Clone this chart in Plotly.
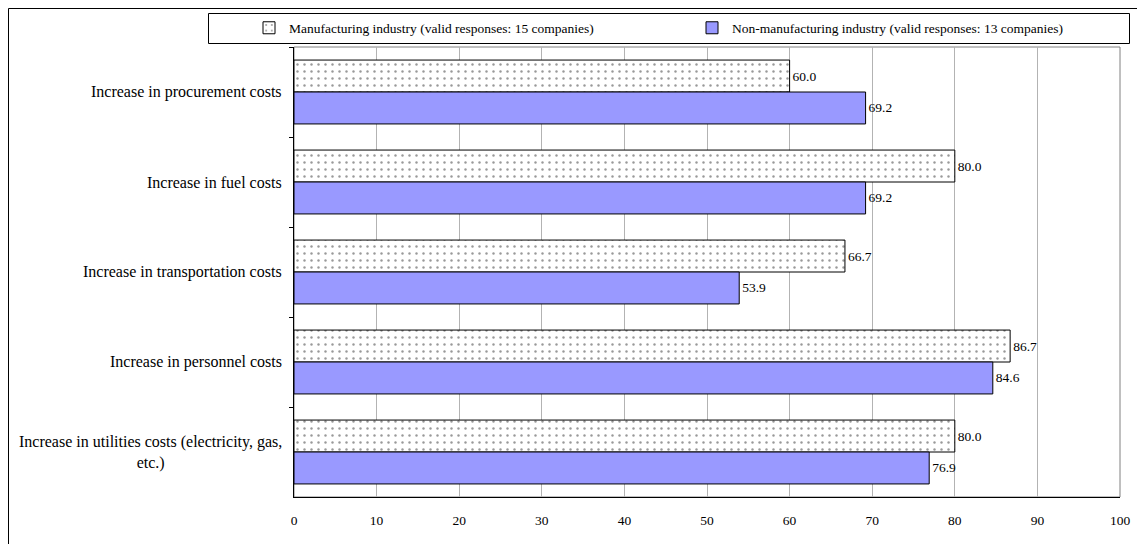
import plotly.graph_objects as go

categories = [
    "Increase in procurement costs",
    "Increase in fuel costs",
    "Increase in transportation costs",
    "Increase in personnel costs",
    "Increase in utilities costs (electricity, gas,<br>etc.)",
]
manufacturing = [60.0, 80.0, 66.7, 86.7, 80.0]
non_manufacturing = [69.2, 69.2, 53.9, 84.6, 76.9]
series_names = [
    "Manufacturing industry (valid responses: 15 companies)",
    "Non-manufacturing industry (valid responses: 13 companies)",
]

FONT = "Liberation Serif, Times New Roman, Times, serif"
OFF = 8  # page body margin
W, H = 1145, 544
# plot area in page pixels: x 294..1120, y 47..497
PL, PR, PT, PB = 294, 1120, 47, 497
L, T = PL - OFF, PT - OFF
R, B = W - (PR - OFF), H - (PB - OFF)
pw, ph = PR - PL, PB - PT

def px_x(p):  # page x -> paper
    return (p - PL) / pw

def px_y(p):  # page y -> paper
    return (PB - p) / ph

fig = go.Figure()
fig.add_trace(go.Bar(
    y=categories, x=manufacturing, orientation="h", name=series_names[0],
    marker=dict(color="white", line=dict(color="black", width=1),
                pattern=dict(shape=".", fgcolor="#333333", bgcolor="white", size=7, solidity=0.1)),
    text=[f"{v:.1f}" for v in manufacturing], textposition="outside",
    textfont=dict(family=FONT, size=13.5, color="black"), cliponaxis=False,
    legend="legend",
))
fig.add_trace(go.Bar(
    y=categories, x=non_manufacturing, orientation="h", name=series_names[1],
    marker=dict(color="#9999FF", line=dict(color="black", width=1)),
    text=[f"{v:.1f}" for v in non_manufacturing], textposition="outside",
    textfont=dict(family=FONT, size=13.5, color="black"), cliponaxis=False,
    legend="legend2",
))

# category labels right-aligned at the axis, lines centred
for c in categories:
    fig.add_annotation(x=px_x(284), xref="paper", y=c, yref="y", text=c,
                       showarrow=False, xanchor="right", align="center",
                       font=dict(family=FONT, size=16, color="black"))

# plot-area frame (grey) and outer chart frame
fig.add_shape(type="rect", xref="paper", yref="paper", x0=0, x1=1, y0=0, y1=1,
              line=dict(color="#808080", width=1), layer="below")
fig.add_shape(type="rect", xref="paper", yref="paper", x0=px_x(8.5), x1=px_x(1170),
              y0=px_y(570), y1=px_y(8.5), line=dict(color="black", width=1))
# legend box
fig.add_shape(type="rect", xref="paper", yref="paper", x0=px_x(208.5), x1=px_x(1129.5),
              y0=px_y(43.5), y1=px_y(13.5), line=dict(color="black", width=1))

leg_common = dict(orientation="h", xanchor="left", yanchor="middle",
                  bgcolor="rgba(0,0,0,0)", font=dict(family=FONT, size=13.5, color="black"),
                  itemwidth=30)
fig.update_layout(
    width=W, height=H, margin=dict(l=L, r=R, t=T, b=B, autoexpand=False),
    paper_bgcolor="white", plot_bgcolor="white",
    barmode="group", bargap=0.29, bargroupgap=0,
    font=dict(family=FONT, size=13.5, color="black"),
    showlegend=True,
    legend=dict(x=px_x(249), y=px_y(28), **leg_common),
    legend2=dict(x=px_x(692), y=px_y(28), **leg_common),
)
fig.update_xaxes(range=[0, 100], dtick=10, tick0=0, showgrid=True, gridcolor="#b3b3b3",
                 gridwidth=1, zeroline=False, showline=True, linecolor="black", linewidth=1,
                 ticks="", ticklabelstandoff=11,
                 tickfont=dict(family=FONT, size=13.5, color="black"))
fig.update_yaxes(autorange="reversed", showticklabels=False, tickson="boundaries",
                 ticks="outside", ticklen=4, tickcolor="black", showline=True,
                 linecolor="black", linewidth=1, showgrid=False)

fig.write_html("out.html")
